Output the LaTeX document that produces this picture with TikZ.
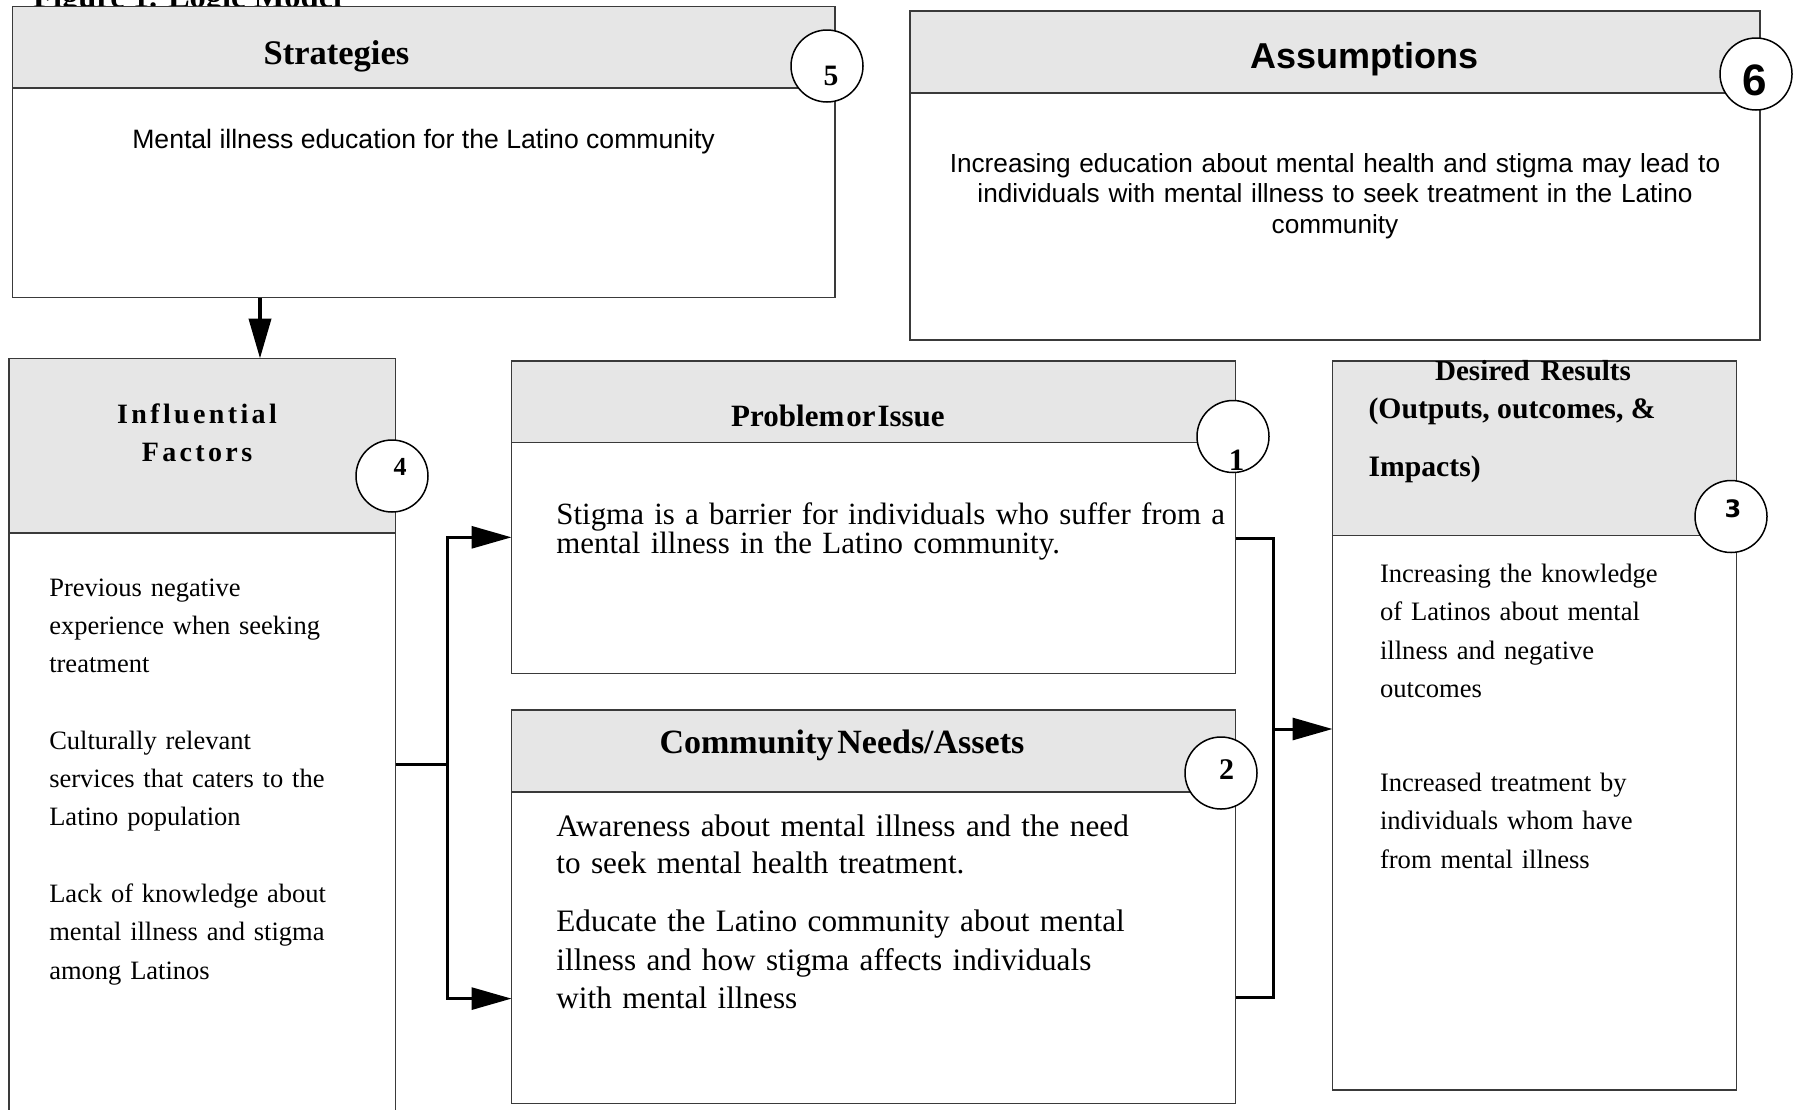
\documentclass[tikz,border=0pt]{standalone}
\usepackage{fontspec}
\setmainfont{Liberation Serif}
\setsansfont{Liberation Sans}
\newfontfamily\dejavu{DejaVu Sans}
\usetikzlibrary{arrows.meta,calc}
\definecolor{hdrgray}{HTML}{E6E6E6}
\definecolor{edgegray}{HTML}{3A3A3A}
\begin{document}
\begin{tikzpicture}[x=1pt,y=-1pt,
  frame/.style={draw=edgegray,line width=1.6pt,fill=white,inner sep=0pt,outer sep=0pt,anchor=north west},
  hdr/.style={draw=edgegray,line width=1.6pt,fill=hdrgray,inner sep=0pt,outer sep=0pt,anchor=north west},
  numc/.style={circle,draw=black,line width=1.5pt,fill=white,minimum size=72pt,inner sep=0pt},
  digit/.style={inner sep=0pt,outer sep=0pt},
  conn/.style={line width=3pt,black},
  tip/.style={-{Triangle[length=40pt,width=22pt]}},
  body/.style={inner sep=0pt,outer sep=0pt,anchor=base west,align=left,text width=#1},
  htext/.style={inner sep=0pt,outer sep=0pt,anchor=base},
]
\useasboundingbox (0,0) rectangle (1795,1109);
\begin{scope}
\clip (0,0) rectangle (1795,1109);
% title (partly hidden, as in the reference)
\node[inner sep=0pt,anchor=base west,font=\fontsize{32.5}{38}\selectfont\bfseries] (title) at (33,7) {Figure 1. Logic Model};

% boxes
\node[frame,minimum width=822.5pt,minimum height=291pt] (strat) at (12.5,6.5) {};
\node[hdr,minimum width=822.5pt,minimum height=81.5pt] (stratH) at (12.5,6.5) {};
\node[frame,minimum width=850pt,minimum height=329pt] (assum) at (910,11) {};
\node[hdr,minimum width=850pt,minimum height=81.7pt] (assumH) at (910,11) {};
\node[frame,minimum width=386.5pt,minimum height=800pt] (infl) at (9,358.5) {};
\node[hdr,minimum width=386.5pt,minimum height=174.5pt] (inflH) at (9,358.5) {};
\node[frame,minimum width=724pt,minimum height=312.5pt] (prob) at (511.5,361) {};
\node[hdr,minimum width=724pt,minimum height=81.5pt] (probH) at (511.5,361) {};
\node[frame,minimum width=724pt,minimum height=393.5pt] (comm) at (511.5,710) {};
\node[hdr,minimum width=724pt,minimum height=82pt] (commH) at (511.5,710) {};
\node[frame,minimum width=404pt,minimum height=728.7pt] (des) at (1332.5,361) {};
\node[hdr,minimum width=404pt,minimum height=174.6pt] (desH) at (1332.5,361) {};

% header texts
\node[htext,font=\fontsize{34.5}{40}\selectfont\bfseries] (tStrat) at (336.5,64) {Strategies};
\node[htext,font=\fontsize{36}{42}\selectfont\sffamily\bfseries] (tAssum) at (1364.6,68) {Assumptions};
\node[htext,align=center,font=\fontsize{28}{38.4}\selectfont\bfseries\addfontfeatures{LetterSpace=12}] (tInfl) at (197,461.7) {Influential\\Factors};
\node[htext,font=\fontsize{31}{36}\selectfont\bfseries] (tProb) at (838,426) {\spaceskip=2pt Problem or Issue};
\node[htext,font=\fontsize{34}{40}\selectfont\bfseries] (tComm) at (842,753.3) {\spaceskip=4pt Community Needs/Assets};
\node[htext,font=\fontsize{29}{34}\selectfont\bfseries] (tDes1) at (1533,380) {\spaceskip=11pt Desired Results};
\node[inner sep=0pt,anchor=base west,font=\fontsize{29.7}{34}\selectfont\bfseries] (tDes2) at (1368.3,418.3) {(Outputs, outcomes, \&};
\node[inner sep=0pt,anchor=base west,font=\fontsize{29.7}{34}\selectfont\bfseries] (tDes3) at (1368.3,476.7) {Impacts)};

% body texts
\node[htext,font=\fontsize{26.6}{30}\selectfont\sffamily] (bStrat) at (423.6,148) {Mental illness education for the Latino community};
\node[inner sep=0pt,outer sep=0pt,anchor=base,align=center,text width=840pt,font=\fontsize{26.2}{30.5}\selectfont\sffamily] (bAssum) at (1335,172) {Increasing education about mental health and stigma may lead to\\individuals with mental illness to seek treatment in the Latino\\community};

\node[body=340pt,font=\fontsize{26.5}{38.3}\selectfont] (bInfl1) at (49.3,596) {Previous negative\\experience when seeking\\treatment};
\node[body=340pt,font=\fontsize{26.5}{38.3}\selectfont] (bInfl2) at (49.3,749.2) {Culturally relevant\\services that caters to the\\Latino population};
\node[body=340pt,font=\fontsize{26.5}{38.3}\selectfont] (bInfl3) at (49.3,902.4) {Lack of knowledge about\\mental illness and stigma\\among Latinos};

\node[body=700pt,font=\fontsize{30.9}{28}\selectfont] (bProb) at (556.4,524) {Stigma is a barrier for individuals who suffer from a\\mental illness in the Latino community.};

\node[body=700pt,font=\fontsize{31.2}{37.5}\selectfont] (bComm1) at (556.4,836) {Awareness about mental illness and the need\\to seek mental health treatment.};
\node[body=700pt,font=\fontsize{31.2}{38.3}\selectfont] (bComm2) at (556.4,931.7) {Educate the Latino community about mental\\illness and how stigma affects individuals\\with mental illness};

\node[body=350pt,font=\fontsize{26.6}{38.4}\selectfont] (bDes1) at (1380,582.3) {Increasing the knowledge\\of Latinos about mental\\illness and negative\\outcomes};
\node[body=350pt,font=\fontsize{26.6}{38.3}\selectfont] (bDes2) at (1380,791.4) {Increased treatment by\\individuals whom have\\from mental illness};

% connectors
\coordinate (sx) at (260,0);
\draw[line width=4pt,tip] (strat.south -| sx) -- (infl.north -| sx);

\coordinate (jT) at (447.7,537.3);
\coordinate (jM) at (447.7,764.5);
\coordinate (jB) at (447.7,998.6);
\draw[conn,{Triangle[length=40pt,width=22pt]}-{Triangle[length=40pt,width=22pt]}] (jT -| prob.west) -- (jT) -- (jB) -- (jB -| comm.west);
\draw[conn] (infl.east |- jM) -- (jM);

\coordinate (rT) at (1273,538);
\coordinate (rM) at (1273,729);
\coordinate (rB) at (1273,997);
\draw[conn] (prob.east |- rT) -- (rT) -- (rB) -- (comm.east |- rB);
\draw[conn,tip] (rM) -- (rM -| des.west);

% numbered circles
\node[numc] (c5) at (827,66) {};
\node[numc] (c6) at (1756,74) {};
\node[numc] (c4) at (392,476) {};
\node[numc] (c1) at (1233,436.5) {};
\node[numc] (c2) at (1221,773) {};
\node[numc] (c3) at (1731,516.5) {};

\node[digit,font=\fontsize{29.6}{34}\selectfont\bfseries] (n5) at (831,75.5) {5};
\node[digit,font=\fontsize{44}{50}\selectfont\sffamily\bfseries] (n6) at (1755,80) {6};
\node[digit,font=\fontsize{26}{30}\selectfont\bfseries] (n4) at (400,467) {4};
\node[digit,font=\fontsize{31}{36}\selectfont\bfseries] (n1) at (1236.7,460.5) {1};
\node[digit,font=\fontsize{30}{36}\selectfont\bfseries] (n2) at (1226.5,769.7) {2};
\node[digit,font=\fontsize{24}{28}\selectfont\dejavu\bfseries] (n3) at (1733,509) {3};
\end{scope}
\end{tikzpicture}
\end{document}
